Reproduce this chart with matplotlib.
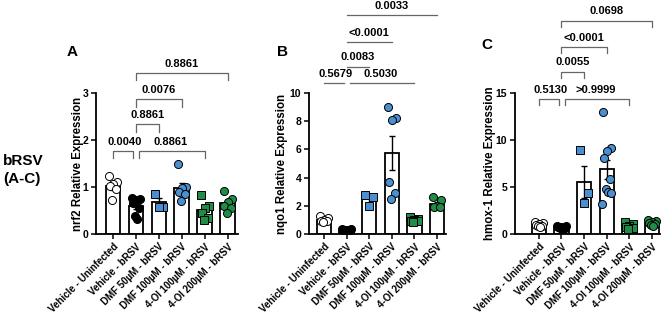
import numpy as np
import matplotlib
matplotlib.use('Agg')
import matplotlib.pyplot as plt

plt.rcParams['font.family'] = ['Liberation Sans', 'DejaVu Sans']
plt.rcParams['font.weight'] = 'bold'

# ==========================================
# DATA
# ==========================================
GROUPS = [
    "Vehicle - Uninfected",
    "Vehicle - bRSV",
    "DMF 50µM - bRSV",
    "DMF 100µM - bRSV",
    "4-OI 100µM - bRSV",
    "4-OI 200µM - bRSV",
]

nrf2 = [
    [1.23, 1.10, 1.06, 1.02, 0.95, 0.72],
    [0.77, 0.75, 0.72, 0.66, 0.55, 0.38, 0.32],
    [0.86, 0.58, 0.58],
    [1.48, 1.00, 0.97, 0.90, 0.85, 0.70],
    [0.82, 0.60, 0.55, 0.45, 0.35, 0.30],
    [0.92, 0.75, 0.68, 0.60, 0.55, 0.45],
]
nqo1 = [
    [1.30, 1.10, 1.00, 0.95, 0.90, 0.85],
    [0.35, 0.32, 0.30, 0.28, 0.26, 0.25, 0.30],
    [2.80, 2.60, 2.00],
    [9.00, 8.20, 8.10, 3.70, 2.90, 2.50],
    [1.20, 1.05, 1.00, 0.95, 0.90, 0.85],
    [2.60, 2.40, 2.00, 1.90, 1.90],
]
hmox1 = [
    [1.30, 1.20, 1.10, 1.00, 0.90, 0.80, 0.70],
    [0.90, 0.80, 0.75, 0.70, 0.65, 0.60, 0.55],
    [8.90, 4.40, 3.30],
    [13.0, 9.20, 8.80, 8.10, 5.90, 4.80, 4.50, 4.40, 3.20],
    [1.30, 1.10, 0.90, 0.70, 0.60, 0.50],
    [1.50, 1.40, 1.30, 1.20, 1.10, 1.00, 0.80],
]

# comparisons: (group a, group b, height, p-value text)
brackets_a = [(0, 1, 1.77, "0.0040"), (1, 4, 1.77, "0.8861"),
              (1, 2, 2.33, "0.8861"), (1, 3, 2.87, "0.0076"),
              (1, 5, 3.43, "0.8861")]
brackets_b = [(0, 1, 10.7, "0.5679"), (1, 4, 10.7, "0.5030"),
              (1, 2, 11.87, "0.0083"), (1, 3, 13.6, "<0.0001"),
              (1, 5, 15.5, "0.0033")]
brackets_c = [(0, 1, 14.33, "0.5130"), (1, 4, 14.33, ">0.9999"),
              (1, 2, 17.27, "0.0055"), (1, 3, 19.9, "<0.0001"),
              (1, 5, 22.7, "0.0698")]

# ==========================================
# STYLE
# ==========================================
W, H = 670, 315
FACES = ['white', 'black', '#4a8fd0', '#4a8fd0', '#1f8c48', '#1f8c48']
MARKERS = ['o', 'o', 's', 'o', 's', 'o']
JITTER = [-0.18, 0.18, 0.0, -0.14, 0.14, -0.05, 0.05, 0.2, -0.2]
BRACKET_COLOR = '#666666'


def px_axes(fig, left, right, top, bottom):
    return fig.add_axes([left / W, 1 - bottom / H, (right - left) / W, (bottom - top) / H])


def draw_panel(ax, data, ylim, yticks, ylabel, label_x, xlim, brackets, tick_len):
    means = [np.mean(d) for d in data]
    sems = [np.std(d, ddof=1) / np.sqrt(len(d)) for d in data]
    x = np.arange(len(data))
    ax.bar(x, means, width=0.64, color='white', edgecolor='black', linewidth=1.3, zorder=1)
    ax.errorbar(x, means, yerr=sems, fmt='none', ecolor='black', elinewidth=1.0,
                capsize=2.5, capthick=1.0, zorder=2)
    for i, vals in enumerate(data):
        xs = i + np.array(JITTER[:len(vals)])
        ax.plot(xs, vals, linestyle='none', marker=MARKERS[i], ms=5.8,
                mfc=FACES[i], mec='black', mew=0.7, zorder=3, clip_on=False)

    ax.set_xlim(*xlim)
    ax.set_ylim(*ylim)
    ax.set_yticks(yticks)
    ax.set_yticklabels([str(t) for t in yticks], fontsize=7.5, fontweight='bold')
    ax.set_xticks(x)
    ax.set_xticklabels(GROUPS, rotation=45, ha='right', rotation_mode='anchor',
                       fontsize=7, fontweight='bold')
    ax.set_ylabel(ylabel, fontsize=8.3, fontweight='bold')
    ax.yaxis.set_label_coords(label_x, 0.5)
    for s in ['top', 'right']:
        ax.spines[s].set_visible(False)
    for s in ['left', 'bottom']:
        ax.spines[s].set_linewidth(1.3)
    ax.tick_params(width=1.1, length=3.5, pad=2)

    for a, b, y, label in brackets:
        xa = a + (0.15 if (a == 1 and b == 4) else 0.0)
        xb = b - (0.12 if (a == 0) else 0.0)
        if tick_len > 0:
            ax.plot([xa, xa, xb, xb], [y - tick_len, y, y, y - tick_len],
                    color=BRACKET_COLOR, lw=0.9, clip_on=False)
        else:
            ax.plot([xa, xb], [y, y], color=BRACKET_COLOR, lw=0.9, clip_on=False)
        ax.text((a + b) / 2, y + (ylim[1] - ylim[0]) * 0.03, label, ha='center', va='bottom',
                fontsize=8, fontweight='bold', clip_on=False)


fig = plt.figure(figsize=(W / 100, H / 100), dpi=100)

ax_a = px_axes(fig, 96, 238, 93, 234)
draw_panel(ax_a, nrf2, (0, 3), [0, 1, 2, 3], "nrf2 Relative Expression", -0.085,
           (-0.74, 5.45), brackets_a, 0.16)

ax_b = px_axes(fig, 309, 446, 93, 234)
draw_panel(ax_b, nqo1, (0, 10), [0, 2, 4, 6, 8, 10], "nqo1 Relative Expression", -0.15,
           (-0.66, 5.4), brackets_b, 0)

ax_c = px_axes(fig, 515, 660, 93, 234)
draw_panel(ax_c, hmox1, (0, 15), [0, 5, 10, 15], "hmox-1 Relative Expression", -0.13,
           (-1.05, 5.35), brackets_c, 0.65)

fig.text(72 / W, 1 - 52 / H, "A", fontsize=11, fontweight='bold', ha='center', va='center')
fig.text(282 / W, 1 - 52 / H, "B", fontsize=11, fontweight='bold', ha='center', va='center')
fig.text(487 / W, 1 - 45 / H, "C", fontsize=11, fontweight='bold', ha='center', va='center')
fig.text(3 / W, 1 - 170 / H, "bRSV\n(A-C)", fontsize=11, fontweight='bold', ha='left',
         va='center', linespacing=1.4)

fig.savefig('out.png', dpi=100)
